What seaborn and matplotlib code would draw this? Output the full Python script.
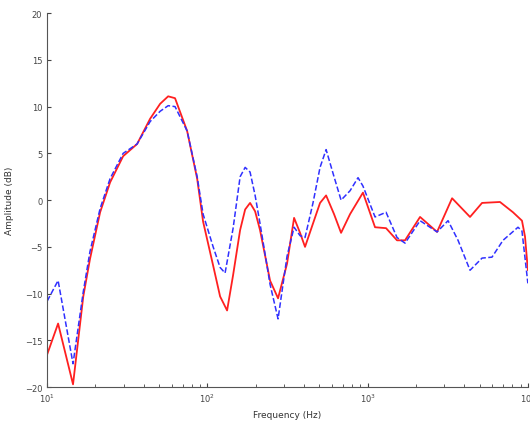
import matplotlib
matplotlib.use("Agg")
import matplotlib.pyplot as plt
import matplotlib.ticker as mticker
import seaborn as sns

# frequency (Hz) and amplitude (dB)
freq_red = [10, 11.7, 14.5, 16.8, 18.5, 21.4, 24.7, 29.8, 36.4, 43.9, 50.7, 56.9, 62.8, 74.7,
            86.3, 94, 108.6, 120, 132.7, 144.7, 160, 172, 184.6, 198.5, 213, 246, 276, 314,
            347.5, 378.6, 406.7, 456, 504.6, 550.5, 617, 682.5, 776.6, 935, 1112, 1303, 1525,
            1711, 2124, 2712, 3365, 4355, 5176, 6698, 8075, 9186, 9595, 10000]
amp_red = [-16.5, -13.2, -19.7, -10.3, -6.3, -1.3, 1.9, 4.7, 6.0, 8.7, 10.3, 11.1, 10.9, 7.4,
           2.3, -2.3, -7.0, -10.3, -11.8, -8.0, -3.2, -1.0, -0.3, -1.2, -3.2, -8.6, -10.5, -6.8,
           -1.9, -3.5, -5.0, -2.5, -0.3, 0.5, -1.5, -3.5, -1.5, 0.8, -2.9, -3.0, -4.3,
           -4.3, -1.8, -3.4, 0.2, -1.8, -0.3, -0.2, -1.3, -2.2, -3.9, -7.5]

freq_blue = [10, 11.7, 14.5, 16.8, 18.5, 21.4, 24.7, 29.8, 36.4, 43.9, 50.7, 56.9, 62.8, 74.7,
             86.3, 94, 108.6, 120, 128.9, 144.7, 160, 172, 184.6, 198.5, 213, 246, 276, 314,
             347.5, 378.6, 406.7, 456, 504.6, 550.5, 617, 682.5, 776.6, 871, 935, 1112, 1303,
             1525, 1711, 2124, 2712, 3176, 3666, 4355, 5176, 5970, 6995, 8675, 9186, 10000]
amp_blue = [-10.8, -8.6, -17.5, -9.8, -5.5, -0.9, 2.3, 5.0, 6.0, 8.4, 9.5, 10.1, 10.0, 7.4,
            2.5, -1.5, -5.0, -7.2, -7.8, -3.0, 2.5, 3.5, 3.0, 0.5, -2.5, -9.0, -12.7, -6.0,
            -2.9, -3.8, -4.0, -0.3, 3.5, 5.4, 2.5, 0.0, 1.0, 2.4, 1.5, -1.8, -1.3,
            -4.0, -4.6, -2.2, -3.4, -2.2, -4.3, -7.5, -6.2, -6.1, -4.3, -2.9, -3.3, -8.9]

sns.set_style("ticks")
plt.rcParams["font.family"] = ["DejaVu Sans"]

fig = plt.figure(figsize=(5.3, 4.27), dpi=100)
ax = fig.add_axes([0.089, 0.091, 0.907, 0.876])

sns.lineplot(x=freq_red, y=amp_red, color="#ff2020", linewidth=1.3, ax=ax, sort=False)
sns.lineplot(x=freq_blue, y=amp_blue, color="#3030ff", linewidth=1.1, linestyle="--",
             dashes=(3, 2), ax=ax, sort=False)

ax.set_xscale("log")
ax.set_xlim(10, 10000)
ax.set_ylim(-20, 20)
ax.set_yticks(range(-20, 21, 5))
ax.xaxis.set_major_locator(mticker.LogLocator(base=10, numticks=10))
ax.xaxis.set_minor_locator(mticker.LogLocator(base=10, subs=range(2, 10), numticks=20))
ax.tick_params(which="both", direction="in", labelsize=6, colors="#444444", length=3)
ax.tick_params(which="minor", length=2)
for s in ["left", "bottom"]:
    ax.spines[s].set_color("#555555")
    ax.spines[s].set_linewidth(0.8)
sns.despine(ax=ax)

ax.set_xlabel("Frequency (Hz)", fontsize=6.5, color="#333333", labelpad=4)
ax.set_ylabel("Amplitude (dB)", fontsize=6.5, color="#333333", labelpad=8)

fig.savefig("out.png", dpi=100, facecolor="white")
